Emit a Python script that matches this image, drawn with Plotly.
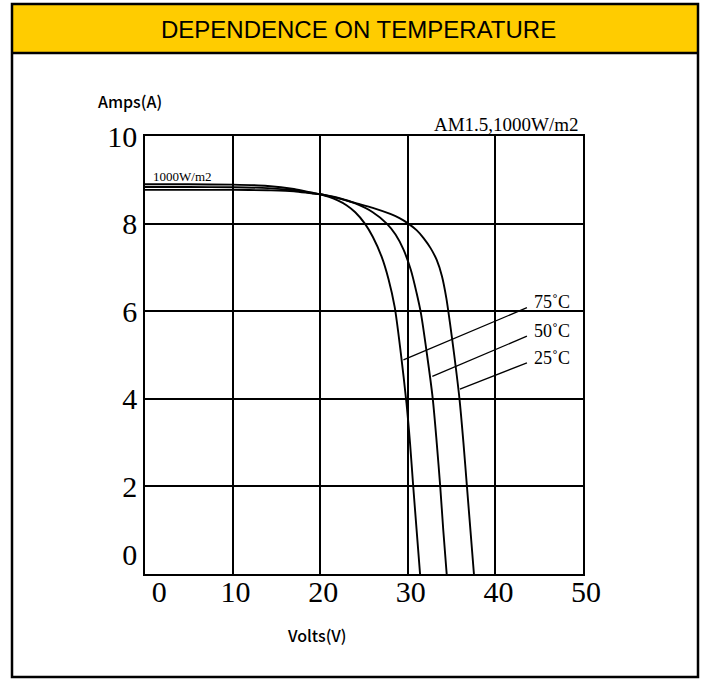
import plotly.graph_objects as go

# ---------------- data ----------------
volts_75 = [0, 5, 10, 14, 17, 19, 20, 21, 22, 23, 24, 25.1, 26, 27, 27.8, 28.5, 29.2, 29.85, 30.25, 30.6, 31.0, 31.4]
amps_75 = [8.90, 8.90, 8.89, 8.86, 8.79, 8.71, 8.67, 8.61, 8.53, 8.42, 8.26, 8.0, 7.70, 7.25, 6.73, 6.1, 5.05, 3.9, 3.0, 2.05, 1.02, 0.0]

volts_50 = [0, 5, 10, 14, 17, 19, 20, 22, 24, 26, 27.6, 28.6, 29.5, 30.35, 31.0, 31.5, 32.2, 32.85, 33.3, 33.7, 34.05, 34.44]
amps_50 = [8.835, 8.835, 8.83, 8.81, 8.76, 8.70, 8.67, 8.59, 8.46, 8.26, 8.0, 7.75, 7.41, 6.94, 6.42, 5.95, 5.0, 4.0, 3.0, 2.0, 1.0, 0.0]

volts_25 = [0, 5, 10, 14, 17, 19, 20, 22, 24.16, 26, 28, 29, 30.06, 31, 31.8, 32.6, 33.3, 33.9, 34.4, 34.8, 35.3, 35.9, 36.35, 36.75, 37.15, 37.55]
amps_25 = [8.77, 8.77, 8.77, 8.76, 8.74, 8.69, 8.67, 8.58, 8.46, 8.36, 8.22, 8.13, 8.0, 7.85, 7.67, 7.44, 7.17, 6.8, 6.3, 5.75, 5.0, 4.0, 3.0, 2.0, 1.0, 0.0]

series_names = ["75˚C", "50˚C", "25˚C"]
# leader lines: label end (volts, amps) -> curve end (volts, amps)
leader_start = [(43.6, 6.08), (43.6, 5.43), (43.6, 4.82)]
leader_end = [(29.5, 4.89), (32.8, 4.51), (35.95, 4.22)]
label_pos = [(44.2, 6.2), (44.2, 5.55), (44.2, 4.93)]

x_ticks = [0, 10, 20, 30, 40, 50]
x_tick_text = ["\u00a0\u00a0\u00a00", "10", "20", "30", "40", "50"]
y_ticks = [0, 2, 4, 6, 8, 10]
y_tick_text = ["0<br>", "2", "4", "6", "8", "10"]

title_text = "DEPENDENCE ON TEMPERATURE"
condition_text = "AM1.5,1000W/m2"
irradiance_text = "1000W/m2"
x_title = "Volts(V)"
y_title = "Amps(A)"

# ---------------- layout helpers ----------------
W, H = 704, 679
L, R, T, B = 145, 583, 136, 574
PW, PH = R - L, B - T


def px_x(px):
    return (px - L) / PW


def px_y(py):
    return (B - py) / PH


fig = go.Figure()
for vx, ay in [(volts_75, amps_75), (volts_50, amps_50), (volts_25, amps_25)]:
    fig.add_trace(go.Scatter(x=vx, y=ay, mode="lines",
                             line=dict(color="black", width=1.9, shape="spline", smoothing=0.8),
                             showlegend=False, hoverinfo="skip"))

for (x0, y0), (x1, y1) in zip(leader_start, leader_end):
    fig.add_trace(go.Scatter(x=[x0, x1], y=[y0, y1], mode="lines",
                             line=dict(color="black", width=1.3),
                             showlegend=False, hoverinfo="skip"))

serif = "Liberation Serif, Times New Roman, serif"
sans = "Liberation Sans, Arial, sans-serif"
gothic = "Noto Sans CJK JP, Noto Sans, sans-serif"

annotations = []
for name, (lx, ly) in zip(series_names, label_pos):
    annotations.append(dict(x=lx, y=ly, xref="x", yref="y", text=name, showarrow=False,
                            xanchor="left", yanchor="middle",
                            font=dict(family=serif, size=18, color="black")))

annotations += [
    dict(x=px_x(358), y=px_y(29), xref="paper", yref="paper", text=title_text, showarrow=False,
         xanchor="center", yanchor="middle", font=dict(family=sans, size=24, color="black")),
    dict(x=px_x(581), y=px_y(125), xref="paper", yref="paper", text=condition_text, showarrow=False,
         xanchor="right", yanchor="middle", font=dict(family=serif, size=19, color="black")),
    dict(x=px_x(151), y=px_y(176.5), xref="paper", yref="paper", text=irradiance_text, showarrow=False,
         xanchor="left", yanchor="middle", font=dict(family=serif, size=13, color="black")),
    dict(x=px_x(96), y=px_y(101), xref="paper", yref="paper", text=y_title, showarrow=False,
         xanchor="left", yanchor="middle", font=dict(family=gothic, size=16, color="black", weight=500)),
    dict(x=px_x(317), y=px_y(635), xref="paper", yref="paper", text=x_title, showarrow=False,
         xanchor="center", yanchor="middle", font=dict(family=gothic, size=16, color="black", weight=500)),
]

shapes = [
    dict(type="rect", xref="paper", yref="paper", x0=px_x(12), x1=px_x(698), y0=px_y(53), y1=px_y(4),
         fillcolor="#FFCC00", line=dict(width=0), layer="below"),
    dict(type="line", xref="paper", yref="paper", x0=px_x(12), x1=px_x(698), y0=px_y(53), y1=px_y(53),
         line=dict(color="black", width=2.5)),
    dict(type="rect", xref="paper", yref="paper", x0=px_x(12), x1=px_x(698), y0=px_y(677), y1=px_y(4),
         line=dict(color="black", width=2.5)),
]

fig.update_layout(
    width=W, height=H,
    margin=dict(l=L, r=W - R, t=T, b=H - B, pad=0),
    paper_bgcolor="white", plot_bgcolor="white",
    annotations=annotations, shapes=shapes,
    xaxis=dict(range=[0, 50], tickvals=x_ticks, ticktext=x_tick_text,
               showgrid=True, gridcolor="black", gridwidth=2, zeroline=False,
               showline=True, linecolor="black", linewidth=2, mirror=True,
               ticks="", tickfont=dict(family=serif, size=30, color="black"),
               ticklabelshift=3, ticklabelstandoff=-10, fixedrange=True),
    yaxis=dict(range=[0, 10], tickvals=y_ticks, ticktext=y_tick_text,
               showgrid=True, gridcolor="black", gridwidth=2, zeroline=False,
               showline=True, linecolor="black", linewidth=1.5, mirror=True,
               ticks="", tickfont=dict(family=serif, size=30, color="black"),
               fixedrange=True),
)

fig.write_html("out.html", config={"displayModeBar": False},
               post_script="document.body.style.margin='0';")
